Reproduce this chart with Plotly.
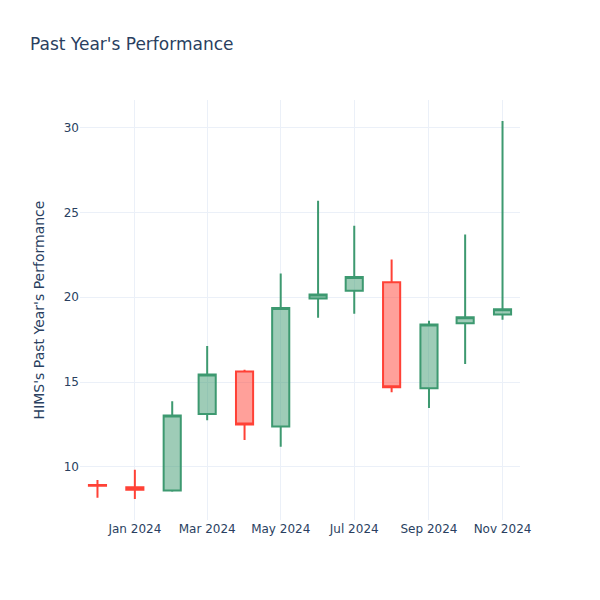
import plotly.graph_objects as go

dates = ["2023-12-01", "2024-01-01", "2024-02-01", "2024-03-01", "2024-04-01", "2024-05-01",
         "2024-06-01", "2024-07-01", "2024-08-01", "2024-09-01", "2024-10-01", "2024-11-01"]
opens = [8.92, 8.80, 8.60, 13.12, 15.62, 12.38, 19.93, 20.38, 20.89, 14.64, 18.47, 18.98]
highs = [9.22, 9.82, 13.86, 17.12, 15.72, 21.40, 25.70, 24.22, 22.23, 18.62, 23.70, 30.40]
lows = [8.17, 8.10, 8.53, 12.74, 11.58, 11.18, 18.80, 19.03, 14.40, 13.47, 16.06, 18.68]
closes = [8.88, 8.65, 13.02, 15.44, 12.49, 19.37, 20.16, 21.20, 14.70, 18.40, 18.82, 19.30]

fig = go.Figure(go.Candlestick(x=dates, open=opens, high=highs, low=lows, close=closes))
fig.update_layout(
    template="plotly_white",
    width=600, height=600,
    font=dict(family="DejaVu Sans"),
    title=dict(text="Past Year's Performance"),
    yaxis_title="HIMS's Past Year's Performance",
    xaxis_rangeslider_visible=False,
    showlegend=False,
)
fig.write_html("out.html", config={"displayModeBar": False},
               post_script="document.body.style.margin='0';")
